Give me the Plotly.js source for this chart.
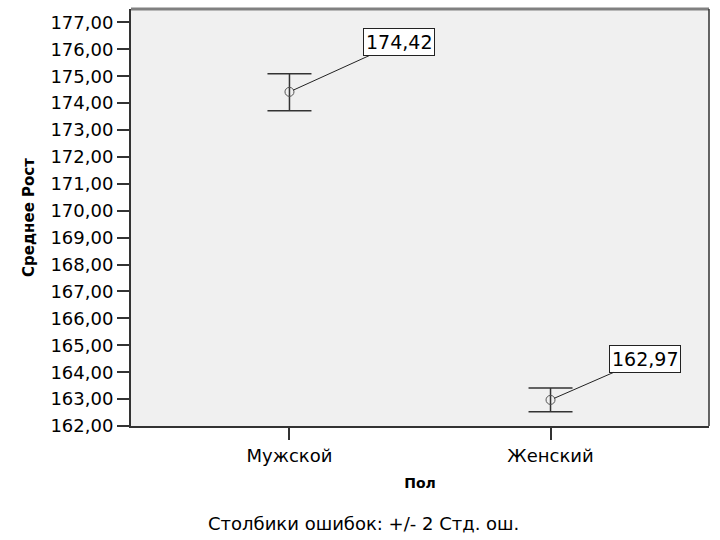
<!DOCTYPE html>
<html>
<head>
<meta charset="utf-8">
<script src="https://cdn.plot.ly/plotly-3.0.1.min.js"></script>
<style>html,body{margin:0;padding:0;background:#fff;}#chart{width:720px;height:540px;}</style>
</head>
<body>
<div id="chart"></div>
<script>
const categories = ['Мужской', 'Женский'];
const means = [174.42, 162.97];
const errPlus = [0.67, 0.44];
const errMinus = [0.70, 0.44];
const yTicks = [162,163,164,165,166,167,168,169,170,171,172,173,174,175,176,177];

const xIdx = categories.map((c, i) => i);
const fmt = v => v.toFixed(2).replace('.', ',');

const trace = {
  type: 'scatter',
  mode: 'markers',
  x: xIdx,
  y: means,
  marker: {symbol: 'circle-open', size: 9, color: '#555', line: {width: 1, color: '#555'}},
  error_y: {type: 'data', symmetric: false, array: errPlus, arrayminus: errMinus,
            color: '#333', thickness: 1.5, width: 22},
  hoverinfo: 'skip',
  showlegend: false
};

const offsets = [[110, -50], [94, -41]];
const annotations = means.map((m, i) => ({
  x: xIdx[i], y: m, xref: 'x', yref: 'y',
  text: fmt(m), showarrow: true, arrowhead: 0, arrowwidth: 1, arrowcolor: '#222',
  ax: offsets[i][0], ay: offsets[i][1], standoff: 4,
  bgcolor: '#ffffff', bordercolor: '#222', borderwidth: 1, borderpad: 2,
  font: {family: 'DejaVu Sans', size: 19, color: '#000'}
}));
annotations.push({
  xref: 'paper', yref: 'paper', x: 0.403, y: -0.235, xanchor: 'center', yanchor: 'middle',
  text: 'Столбики ошибок: &#43;/- 2 Стд. ош.', showarrow: false,
  font: {family: 'DejaVu Sans', size: 18, color: '#000'}
});

const layout = {
  width: 720, height: 540,
  margin: {l: 131, r: 11, t: 9, b: 114},
  paper_bgcolor: '#ffffff',
  plot_bgcolor: '#f0f0f0',
  separators: ',.',
  font: {family: 'DejaVu Sans', color: '#000'},
  xaxis: {
    range: [-0.607, 1.607],
    tickvals: xIdx, ticktext: categories,
    ticks: 'outside', ticklen: 12, tickwidth: 2, tickcolor: '#333',
    showline: true, linecolor: '#333', linewidth: 2,
    showgrid: false, zeroline: false,
    tickfont: {family: 'DejaVu Sans', size: 18, color: '#000'},
    title: {text: '<b>Пол</b>', font: {family: 'DejaVu Sans', size: 14, color: '#000'}, standoff: 14}
  },
  yaxis: {
    range: [162, 177.5],
    tickvals: yTicks, tickformat: '.2f',
    ticks: 'outside', ticklen: 12, tickwidth: 2, tickcolor: '#333',
    showline: true, linecolor: '#333', linewidth: 2,
    showgrid: false, zeroline: false,
    tickfont: {family: 'DejaVu Sans', size: 18, color: '#000'},
    title: {text: '<b>Среднее Рост</b>', font: {family: 'DejaVu Sans', size: 15, color: '#000'}, standoff: 12}
  },
  shapes: [
    {type: 'line', xref: 'paper', yref: 'paper', x0: 0, x1: 1, y0: 1, y1: 1, line: {color: '#808080', width: 3}},
    {type: 'line', xref: 'paper', yref: 'paper', x0: 1, x1: 1, y0: 0, y1: 1, line: {color: '#333', width: 1.5}}
  ],
  annotations: annotations
};

Plotly.newPlot('chart', [trace], layout, {displayModeBar: false, staticPlot: true});
</script>
</body>
</html>
